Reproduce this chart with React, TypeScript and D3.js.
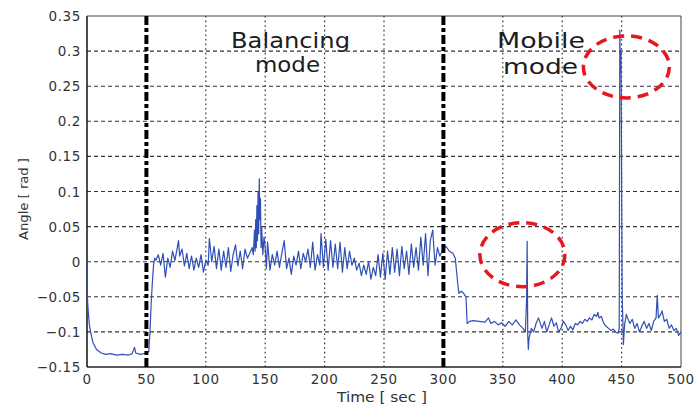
import React from "react";
import * as d3 from "d3";

// Robot tilt angle over time: start-up, balancing mode, then mobile mode.
// Each segment is a list of [time (sec), angle (rad)] samples.
const startupSegment: [number, number][] = [
  [0, 0.0], [0.3, -0.05], [1, -0.07], [2, -0.09], [3, -0.1], [5, -0.115], [8, -0.125],
  [12, -0.13], [16, -0.132], [20, -0.131], [25, -0.133], [30, -0.132], [35, -0.133],
  [38, -0.131], [40, -0.122], [41, -0.13], [45, -0.132], [50, -0.13], [52, -0.128],
  [53, -0.1], [54, -0.06], [55, -0.03], [56, -0.005], [57, 0.005],
];

const balancingSegment: [number, number][] = [
  [58, 0.002], [60, 0.01], [62, -0.005], [64, 0.012], [66, -0.022], [68, 0.005], [70, -0.008],
  [72, 0.015], [74, 0.002], [76, 0.02], [77, 0.03], [78, 0.008], [80, 0.018], [82, -0.006],
  [84, 0.012], [86, -0.01], [88, 0.008], [90, -0.012], [92, 0.005], [94, -0.008], [96, 0.01],
  [98, -0.015], [100, 0.002], [102, -0.005], [103, 0.033], [105, 0.0], [107, 0.022],
  [109, -0.01], [111, 0.018], [113, -0.012], [115, 0.015], [117, -0.008], [119, 0.02],
  [121, -0.014], [123, 0.01], [125, 0.024], [127, -0.006], [129, 0.015], [131, -0.01],
  [133, 0.018], [135, 0.005], [137, 0.012], [139, 0.02], [140, 0.01], [141, 0.045],
  [141.5, 0.015], [142, 0.06], [142.5, 0.02], [143, 0.08], [143.5, 0.03], [144, 0.1],
  [144.5, 0.04], [145, 0.118], [145.5, 0.06], [146, 0.09], [146.5, 0.02], [147, 0.05],
  [148, 0.01], [149, 0.035], [150, 0.02], [151, -0.01], [152, 0.028], [154, -0.012],
  [156, 0.01], [158, -0.005], [160, 0.015], [162, -0.008], [164, 0.012], [166, 0.03],
  [168, -0.01], [170, 0.005], [172, -0.018], [174, 0.008], [176, -0.005], [178, 0.015],
  [180, -0.01], [182, 0.012], [184, 0.0], [186, 0.018], [188, -0.008], [190, 0.028],
  [192, -0.012], [194, 0.01], [196, -0.005], [197, 0.04], [199, -0.008], [201, 0.032],
  [203, -0.012], [205, 0.03], [207, -0.008], [209, 0.025], [211, -0.01], [213, 0.028],
  [215, -0.015], [217, 0.02], [219, -0.01], [221, 0.015], [223, -0.005], [225, 0.005],
  [227, -0.012], [229, -0.002], [231, -0.02], [233, -0.005], [235, -0.018], [237, 0.0],
  [239, -0.025], [241, -0.008], [243, -0.02], [245, 0.01], [247, -0.022], [249, 0.012],
  [251, -0.025], [253, 0.015], [255, -0.018], [257, 0.02], [259, -0.015], [261, 0.018],
  [263, -0.02], [265, 0.022], [267, -0.01], [269, 0.015], [271, -0.018], [273, 0.025],
  [275, -0.008], [277, 0.02], [279, -0.012], [281, 0.035], [283, -0.005], [285, 0.04],
  [287, -0.02], [289, 0.03], [291, 0.045], [293, -0.005], [295, 0.02], [297, 0.008],
  [299, 0.015],
];

const mobileSegment: [number, number][] = [
  [300, 0.018], [302, 0.022], [305, 0.015], [308, 0.012], [310, 0.005], [312, -0.03],
  [313, -0.045], [315, -0.042], [317, -0.045], [319, -0.05], [320, -0.088], [322, -0.085],
  [325, -0.084], [330, -0.085], [335, -0.086], [338, -0.08], [340, -0.088], [343, -0.085],
  [346, -0.09], [349, -0.087], [352, -0.092], [355, -0.085], [358, -0.09], [361, -0.083],
  [364, -0.09], [367, -0.095], [369, -0.1], [370, -0.055], [370.5, 0.029], [371, -0.105],
  [371.5, -0.125], [372, -0.11], [374, -0.095], [376, -0.1], [378, -0.088], [380, -0.08],
  [383, -0.095], [385, -0.085], [387, -0.1], [389, -0.09], [391, -0.08], [393, -0.092],
  [395, -0.087], [397, -0.1], [399, -0.095], [401, -0.085], [403, -0.09], [405, -0.098],
  [407, -0.092], [409, -0.097], [411, -0.088], [413, -0.09], [415, -0.085], [417, -0.088],
  [419, -0.082], [421, -0.085], [423, -0.08], [425, -0.083], [427, -0.075], [429, -0.078],
  [430, -0.072], [431, -0.08], [433, -0.078], [435, -0.088], [437, -0.092], [439, -0.095],
  [441, -0.098], [443, -0.096], [445, -0.1], [447, -0.102], [448, -0.095], [448.5, 0.33],
  [449, 0.27], [449.5, 0.3], [450.5, -0.05], [451.5, -0.118], [452.5, -0.09], [454, -0.075],
  [455, -0.08], [457, -0.088], [459, -0.082], [461, -0.095], [463, -0.088], [465, -0.1],
  [467, -0.092], [469, -0.085], [471, -0.095], [473, -0.088], [475, -0.098], [477, -0.085],
  [479, -0.08], [480, -0.048], [481, -0.08], [483, -0.075], [484, -0.07], [486, -0.085],
  [488, -0.082], [490, -0.095], [492, -0.09], [494, -0.098], [496, -0.095], [498, -0.105],
  [500, -0.1],
];

const xTicks = [0, 50, 100, 150, 200, 250, 300, 350, 400, 450, 500];
const yTicks = [0.35, 0.3, 0.25, 0.2, 0.15, 0.1, 0.05, 0, -0.05, -0.1, -0.15];
const modeSwitchTimes = [50, 300];

const W = 694;
const H = 409;
const M = { left: 87, right: 681, top: 16, bottom: 367 };

export default function App() {
  const x = d3.scaleLinear().domain([0, 500]).range([M.left, M.right]);
  const y = d3.scaleLinear().domain([-0.15, 0.35]).range([M.bottom, M.top]);
  const samples = [...startupSegment, ...balancingSegment, ...mobileSegment];
  const line = d3
    .line<[number, number]>()
    .x((d) => x(d[0]))
    .y((d) => y(d[1]));

  const fmt = (v: number) => {
    const s = d3.format("")(Math.abs(v));
    return v < 0 ? "\u2212" + s : s;
  };

  const tickFont = "'DejaVu Sans', sans-serif";

  return (
    <svg
      width={W}
      height={H}
      viewBox={`0 0 ${W} ${H}`}
      style={{ position: "absolute", left: 0, top: 0, background: "#fff" }}
    >
      <rect x={0} y={0} width={W} height={H} fill="#fff" />

      {/* horizontal grid */}
      {yTicks
        .filter((t) => t !== 0.35 && t !== -0.15)
        .map((t) => (
          <line
            key={"hg" + t}
            x1={M.left}
            x2={M.right}
            y1={y(t)}
            y2={y(t)}
            stroke="#333"
            strokeWidth={1.1}
            strokeDasharray="4 3"
          />
        ))}
      {/* vertical grid */}
      {xTicks
        .filter((t) => t !== 0 && t !== 500 && !modeSwitchTimes.includes(t))
        .map((t) => (
          <line
            key={"vg" + t}
            x1={x(t)}
            x2={x(t)}
            y1={M.top}
            y2={M.bottom}
            stroke="#333"
            strokeWidth={1.2}
            strokeDasharray="1.6 3"
          />
        ))}

      {/* frame */}
      <line x1={M.left} x2={M.right} y1={M.top} y2={M.top} stroke="#444" strokeWidth={1} />
      <line x1={M.right} x2={M.right} y1={M.top} y2={M.bottom} stroke="#444" strokeWidth={1} />
      <line x1={M.left} x2={M.right} y1={M.bottom} y2={M.bottom} stroke="#222" strokeWidth={1.5} />
      <line x1={M.left} x2={M.left} y1={M.top} y2={M.bottom} stroke="#111" strokeWidth={1.5} />

      {/* angle trace */}
      <path d={line(samples) ?? ""} fill="none" stroke="#2f4fb5" strokeWidth={1.2} strokeLinejoin="round" />

      {/* mode switch markers */}
      {modeSwitchTimes.map((t) => (
        <line
          key={"ms" + t}
          x1={x(t)}
          x2={x(t)}
          y1={M.top}
          y2={M.bottom}
          stroke="#000"
          strokeWidth={4}
          strokeDasharray="9 3 4 3"
        />
      ))}

      {/* highlighted disturbances */}
      <ellipse
        cx={x(366.5)}
        cy={y(0.01)}
        rx={42.5}
        ry={32}
        fill="none"
        stroke="#e8161e"
        strokeWidth={3.5}
        strokeDasharray="11 7"
      />
      <ellipse
        cx={x(454)}
        cy={y(0.2775)}
        rx={43}
        ry={31}
        fill="none"
        stroke="#e8161e"
        strokeWidth={3.5}
        strokeDasharray="11 7"
      />

      {/* mode labels */}
      <g fontFamily="'DejaVu Sans', sans-serif" fontSize={22} fill="#1c1c24" textAnchor="middle">
        <text x={290.5} y={48} textLength={119} lengthAdjust="spacingAndGlyphs">Balancing</text>
        <text x={287.5} y={72} textLength={65} lengthAdjust="spacingAndGlyphs">mode</text>
        <text x={541} y={48} textLength={88} lengthAdjust="spacingAndGlyphs">Mobile</text>
        <text x={540.5} y={74} textLength={75} lengthAdjust="spacingAndGlyphs">mode</text>
      </g>

      {/* y tick labels */}
      {yTicks.map((t) => (
        <text
          key={"yt" + t}
          x={81}
          y={y(t) + 5}
          textAnchor="end"
          fontFamily={tickFont}
          fontSize={13.5}
          letterSpacing={0.6}
          fill="#333"
        >
          {fmt(t)}
        </text>
      ))}
      {/* x tick labels */}
      {xTicks.map((t) => (
        <text
          key={"xt" + t}
          x={x(t)}
          y={384}
          textAnchor="middle"
          fontFamily={tickFont}
          fontSize={13.5}
          letterSpacing={0.6}
          fill="#333"
        >
          {t}
        </text>
      ))}

      {/* axis titles */}
      <text
        x={382}
        y={402}
        textAnchor="middle"
        fontFamily={tickFont}
        fontSize={13.5}
        fill="#333"
        textLength={90}
        lengthAdjust="spacingAndGlyphs"
      >
        Time [ sec ]
      </text>
      <text
        transform={`translate(28, 199) rotate(-90)`}
        textAnchor="middle"
        fontFamily={tickFont}
        fontSize={12.5}
        fill="#333"
        textLength={82}
        lengthAdjust="spacingAndGlyphs"
      >
        Angle [ rad ]
      </text>
    </svg>
  );
}
